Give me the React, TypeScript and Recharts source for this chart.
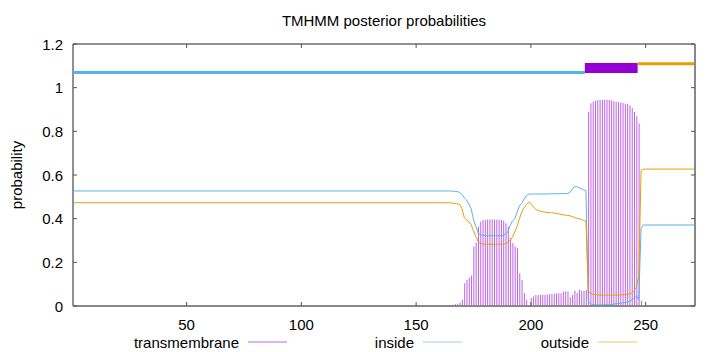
import React from 'react';
import { ComposedChart, Bar, Line, XAxis, YAxis, ReferenceLine, ReferenceArea } from 'recharts';

// ---------- data ----------
const RESIDUES = [
  1, 163, 164, 165, 166, 167, 168, 169, 170, 171, 172, 173, 174, 175, 176, 177, 178, 179, 180,
  181, 182, 183, 184, 185, 186, 187, 188, 189, 190, 191, 192, 193, 194, 195, 196, 197, 198, 199, 200,
  201, 202, 203, 204, 205, 206, 207, 208, 209, 210, 211, 212, 213, 214, 215, 216, 217, 218, 219, 220,
  221, 222, 223, 224, 225, 226, 227, 228, 229, 230, 231, 232, 233, 234, 235, 236, 237, 238, 239, 240,
  241, 242, 243, 244, 245, 246, 247, 248, 249, 271,
];
const TRANSMEMBRANE = [
  0, 0, 0.003, 0.005, 0.006, 0.008, 0.01, 0.015, 0.027, 0.104, 0.119, 0.131, 0.14, 0.272, 0.29, 0.363, 0.386, 0.394, 0.395,
  0.396, 0.396, 0.396, 0.396, 0.395, 0.395, 0.394, 0.39, 0.379, 0.363, 0.31, 0.289, 0.272, 0.264, 0.15, 0.119, 0.06, 0.027, 0.005, 0.037,
  0.043, 0.05, 0.05, 0.051, 0.052, 0.052, 0.053, 0.054, 0.055, 0.056, 0.057, 0.058, 0.058, 0.066, 0.066, 0.066, 0.04, 0.05, 0.07, 0.06,
  0.075, 0.07, 0.07, 0.072, 0.89, 0.929, 0.936, 0.94, 0.944, 0.944, 0.945, 0.945, 0.945, 0.944, 0.942, 0.938, 0.936, 0.934, 0.932, 0.93,
  0.928, 0.925, 0.919, 0.907, 0.889, 0.869, 0.836, 0.024, 0, 0,
];
const INSIDE = [
  0.527, 0.527, 0.527, 0.527, 0.526, 0.525, 0.524, 0.52, 0.51, 0.495, 0.485, 0.465, 0.445, 0.395, 0.365, 0.335, 0.326, 0.324, 0.323,
  0.322, 0.322, 0.322, 0.322, 0.322, 0.322, 0.323, 0.324, 0.33, 0.34, 0.37, 0.39, 0.4, 0.43, 0.458, 0.47, 0.49, 0.505, 0.512, 0.513,
  0.513, 0.513, 0.513, 0.513, 0.513, 0.513, 0.513, 0.514, 0.514, 0.514, 0.514, 0.514, 0.515, 0.515, 0.515, 0.515, 0.52, 0.535, 0.547, 0.546,
  0.542, 0.537, 0.532, 0.528, 0.02, 0.01, 0.006, 0.005, 0.005, 0.005, 0.005, 0.005, 0.006, 0.006, 0.007, 0.008, 0.01, 0.011, 0.012, 0.014,
  0.016, 0.018, 0.022, 0.028, 0.036, 0.045, 0.03, 0.355, 0.371, 0.371,
];
const OUTSIDE = [
  0.473, 0.473, 0.473, 0.472, 0.471, 0.469, 0.468, 0.465, 0.445, 0.405, 0.394, 0.385, 0.372, 0.345, 0.318, 0.295, 0.287, 0.284, 0.283,
  0.283, 0.283, 0.283, 0.283, 0.283, 0.283, 0.283, 0.284, 0.286, 0.292, 0.302, 0.316, 0.34, 0.365, 0.4, 0.43, 0.45, 0.465, 0.475, 0.47,
  0.455, 0.443, 0.438, 0.434, 0.432, 0.43, 0.429, 0.428, 0.427, 0.426, 0.424, 0.422, 0.42, 0.418, 0.416, 0.415, 0.413, 0.41, 0.405, 0.402,
  0.4, 0.396, 0.392, 0.388, 0.066, 0.058, 0.054, 0.052, 0.051, 0.05, 0.05, 0.05, 0.05, 0.05, 0.05, 0.05, 0.05, 0.05, 0.051, 0.051,
  0.052, 0.053, 0.055, 0.06, 0.07, 0.088, 0.134, 0.62, 0.627, 0.627,
];

// predicted topology (residue ranges) and their drawing level
const TOPO_LABELS = ['inside', 'transmembrane', 'outside'];
const TOPO_START = [1, 224, 247];
const TOPO_END = [223, 246, 271];
const TOPO_LEVEL = [1.07, 1.09, 1.11];

const X_DOMAIN = [0.5, 271.5];
const X_TICKS = [50, 100, 150, 200, 250];
const Y_TICKS = [0, 0.2, 0.4, 0.6, 0.8, 1, 1.2];

const SERIES_LABELS = ['transmembrane', 'inside', 'outside'];
const TITLE = 'TMHMM posterior probabilities';
const Y_LABEL = 'probability';

// ---------- styles ----------
const COLORS: Record<string, string> = {
  transmembrane: '#9400D3',
  inside: '#56B4E9',
  outside: '#E69F00',
};
const TOPO_WIDTH: Record<string, number> = { inside: 3, transmembrane: 10, outside: 3 };

const W = 720;
const H = 352;
const MARGIN = { top: 44, right: 25, bottom: 16, left: 0 };
const Y_AXIS_W = 73;
const X_AXIS_H = 30;
const PLOT_LEFT = MARGIN.left + Y_AXIS_W;
const PLOT_RIGHT = W - MARGIN.right;
const PLOT_TOP = MARGIN.top;
const PLOT_BOTTOM = H - MARGIN.bottom - X_AXIS_H;
const FONT = '"Liberation Sans", Arial, sans-serif';
const FS = 15;

const data = RESIDUES.map((r, i) => ({
  residue: r,
  tm: TRANSMEMBRANE[i],
  inside: INSIDE[i],
  outside: OUTSIDE[i],
}));

const fmtY = (v: number) => String(Math.round(v * 10) / 10);

const YTick = (props: any) => {
  const { y, payload } = props;
  return (
    <g>
      <text x={PLOT_LEFT - 10} y={y} textAnchor="end" dominantBaseline="central" fontSize={FS} fontFamily={FONT} fill="#000">
        {fmtY(payload.value)}
      </text>
      <line x1={PLOT_LEFT} x2={PLOT_LEFT + 4} y1={y} y2={y} stroke="#555" strokeWidth={1} />
      <line x1={PLOT_RIGHT - 4} x2={PLOT_RIGHT} y1={y} y2={y} stroke="#555" strokeWidth={1} />
    </g>
  );
};

const XTick = (props: any) => {
  const { x, payload } = props;
  return (
    <g>
      <text x={x} y={PLOT_BOTTOM + 18} textAnchor="middle" dominantBaseline="central" fontSize={FS} fontFamily={FONT} fill="#000">
        {payload.value}
      </text>
      <line x1={x} x2={x} y1={PLOT_BOTTOM} y2={PLOT_BOTTOM - 4} stroke="#555" strokeWidth={1} />
      <line x1={x} x2={x} y1={PLOT_TOP} y2={PLOT_TOP + 4} stroke="#555" strokeWidth={1} />
    </g>
  );
};

const LEGEND_TEXT_END = [239, 414, 589];
const LEGEND_Y = 342;

export default function App() {
  return (
    <div style={{ position: 'absolute', left: 0, top: 0, width: W, height: H, background: '#fff' }}>
      <ComposedChart width={W} height={H} data={data} margin={MARGIN}>
        <XAxis
          dataKey="residue"
          type="number"
          domain={X_DOMAIN}
          ticks={X_TICKS}
          allowDataOverflow
          height={X_AXIS_H}
          axisLine={false}
          tickLine={false}
          tick={<XTick />}
        />
        <YAxis
          type="number"
          domain={[0, 1.2]}
          ticks={Y_TICKS}
          allowDataOverflow
          width={Y_AXIS_W}
          axisLine={false}
          tickLine={false}
          tick={<YTick />}
        />
        <Bar dataKey="tm" barSize={1} fill={COLORS.transmembrane} fillOpacity={0.62} isAnimationActive={false} />
        <Line dataKey="inside" type="linear" stroke={COLORS.inside} strokeWidth={1} dot={false} isAnimationActive={false} />
        <Line dataKey="outside" type="linear" stroke={COLORS.outside} strokeWidth={1} dot={false} isAnimationActive={false} />
        {TOPO_LABELS.map((lab, i) => (
          <ReferenceLine
            key={lab}
            segment={[
              { x: TOPO_START[i] - 0.5, y: TOPO_LEVEL[i] },
              { x: TOPO_END[i] + 0.5, y: TOPO_LEVEL[i] },
            ]}
            stroke={COLORS[lab]}
            strokeWidth={TOPO_WIDTH[lab]}
            ifOverflow="visible"
          />
        ))}
        <ReferenceArea
          x1={X_DOMAIN[0]}
          x2={X_DOMAIN[1]}
          y1={0}
          y2={1.2}
          fill="none"
          stroke="#222"
          strokeWidth={1}
          ifOverflow="visible"
        />
        <ReferenceLine y={0} stroke="#888" strokeWidth={2} ifOverflow="visible" />
        <ReferenceLine x={X_DOMAIN[1]} stroke="#888" strokeWidth={2} ifOverflow="visible" />
      </ComposedChart>
      <svg width={W} height={H} style={{ position: 'absolute', left: 0, top: 0, pointerEvents: 'none' }}>
        <text x={(PLOT_LEFT + PLOT_RIGHT) / 2} y={20} textAnchor="middle" dominantBaseline="central" fontSize={FS} fontFamily={FONT} fill="#000">
          {TITLE}
        </text>
        <text
          x={16}
          y={(PLOT_TOP + PLOT_BOTTOM) / 2}
          textAnchor="middle"
          dominantBaseline="central"
          fontSize={FS}
          fontFamily={FONT}
          fill="#000"
          transform={`rotate(-90 16 ${(PLOT_TOP + PLOT_BOTTOM) / 2})`}
        >
          {Y_LABEL}
        </text>
        {SERIES_LABELS.map((lab, i) => (
          <g key={lab}>
            <text x={LEGEND_TEXT_END[i]} y={LEGEND_Y} textAnchor="end" dominantBaseline="central" fontSize={FS} fontFamily={FONT} fill="#000">
              {lab}
            </text>
            <line
              x1={LEGEND_TEXT_END[i] + 9}
              x2={LEGEND_TEXT_END[i] + 48}
              y1={LEGEND_Y}
              y2={LEGEND_Y}
              stroke={COLORS[lab]}
              strokeOpacity={0.6}
              strokeWidth={1}
            />
          </g>
        ))}
      </svg>
    </div>
  );
}
